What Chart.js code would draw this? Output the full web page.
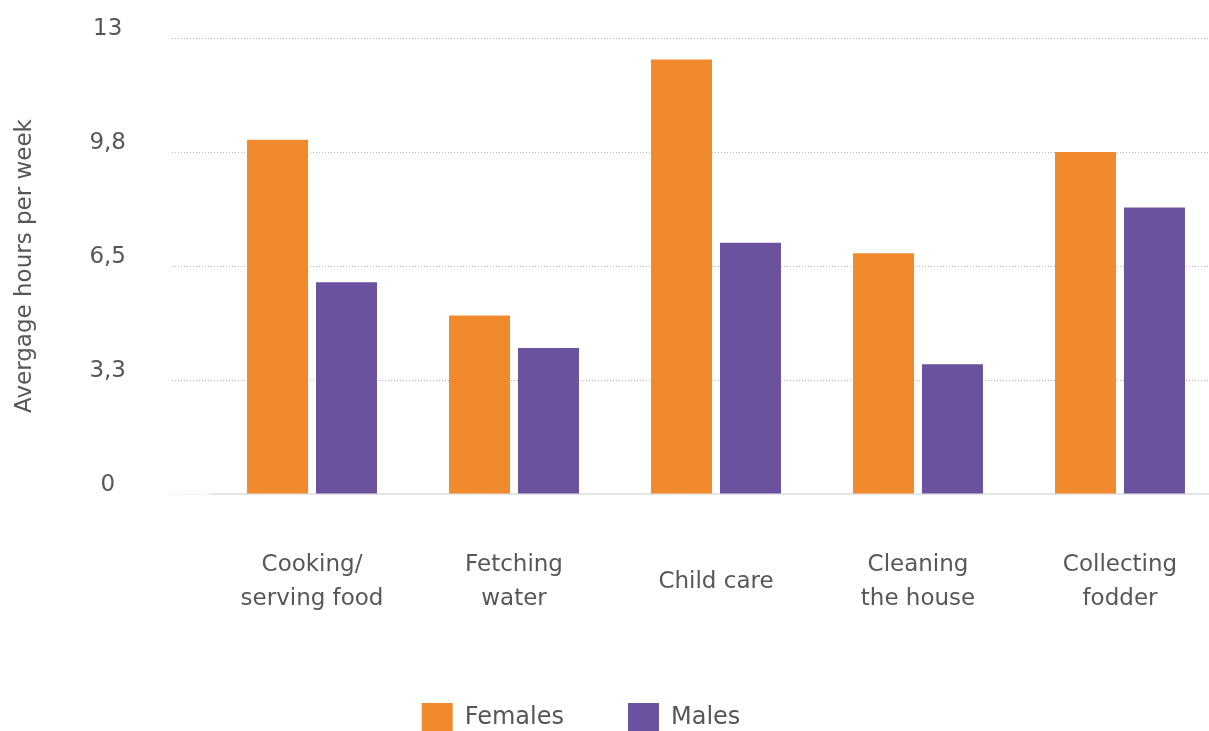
<!DOCTYPE html>
<html>
<head>
<meta charset="utf-8">
<script src="https://cdn.jsdelivr.net/npm/chart.js@4/dist/chart.umd.min.js"></script>
<style>
html,body{margin:0;padding:0;background:#fff;overflow:hidden}
#clip{position:relative;width:1209px;height:731px;overflow:hidden}
#wrap{position:absolute;left:-80px;top:0;width:1301px;height:743px}
</style>
</head>
<body>
<div id="clip"><div id="wrap"><canvas id="chart"></canvas></div></div>
<script>
// values (hours per week)
const categories = [
  ["Cooking/", "serving food"],
  ["Fetching", "water"],
  "Child care",
  ["Cleaning", "the house"],
  ["Collecting", "fodder"]
]
const females = [10.1, 5.09, 12.39, 6.86, 9.75]
const males = [6.04, 4.16, 7.16, 3.7, 8.17]
const yTicks = [0, 3.25, 6.5, 9.75, 13]

const orange = "#F18A2C"
const purple = "#6B529F"
const textGray = "#575757"
const fontFam = "'DejaVu Sans', sans-serif"

new Chart(document.getElementById("chart"), {
  type: "bar",
  data: {
    labels: categories,
    datasets: [
      { label: "Females", data: females, backgroundColor: orange, borderWidth: 0,
        categoryPercentage: 0.683, barPercentage: 0.884 },
      { label: "Males", data: males, backgroundColor: purple, borderWidth: 0,
        categoryPercentage: 0.683, barPercentage: 0.884 }
    ]
  },
  options: {
    responsive: true,
    maintainAspectRatio: false,
    animation: false,
    layout: { padding: { left: 21, right: 0, top: 38, bottom: 0 } },
    plugins: {
      tooltip: { enabled: false },
      legend: {
        position: "bottom",
        labels: {
          boxWidth: 31,
          boxHeight: 30,
          padding: 64,
          color: textGray,
          font: { family: fontFam, size: 24 }
        }
      }
    },
    scales: {
      x: {
        grid: { display: false },
        border: { display: true, color: "#e6e6e6", width: 2 },
        ticks: {
          color: textGray,
          padding: 63,
          crossAlign: "center",
          font: { family: fontFam, size: 23, lineHeight: 1.46 }
        },
        afterFit: s => { s.height = 145; s.paddingLeft = 0; s.paddingRight = 0 }
      },
      y: {
        min: 0,
        max: 13,
        afterBuildTicks: s => { s.ticks = yTicks.map(v => ({ value: v })) },
        border: { display: false, dash: [1, 2] },
        grid: {
          color: c => c.tick && c.tick.value === 0 ? "rgba(0,0,0,0)" : "#b8b8b8",
          lineWidth: 1,
          drawTicks: true,
          tickLength: 39,
          tickColor: c => c.tick && c.tick.value === 0 ? "#e6e6e6" : "#b8b8b8",
          tickBorderDash: [1, 2]
        },
        ticks: {
          color: textGray,
          padding: 46,
          labelOffset: -9,
          crossAlign: "center",
          font: { family: fontFam, size: 23 },
          callback: v => Number.isInteger(v) ? String(v) : v.toFixed(1).replace(".", ",")
        },
        title: {
          display: true,
          text: "Avergage hours per week",
          color: textGray,
          padding: { top: 70, bottom: 0 },
          font: { family: fontFam, size: 23 }
        },
        afterFit: s => { s.width = 270; s.paddingTop = 0; s.paddingBottom = 0 }
      }
    }
  }
})
</script>
</body>
</html>
